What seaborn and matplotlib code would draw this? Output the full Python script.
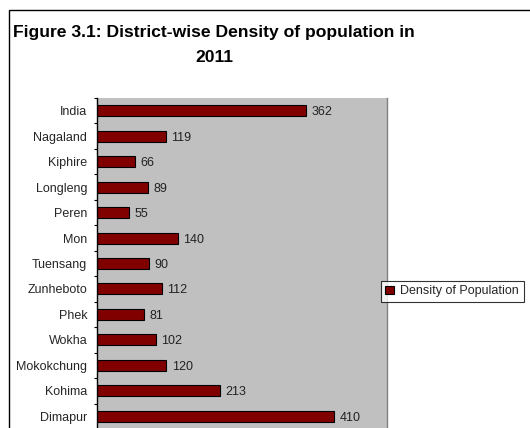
import matplotlib
matplotlib.use("Agg")
import matplotlib.pyplot as plt
from matplotlib.patches import Rectangle
import seaborn as sns
import pandas as pd

districts = ["India", "Nagaland", "Kiphire", "Longleng", "Peren", "Mon", "Tuensang",
             "Zunheboto", "Phek", "Wokha", "Mokokchung", "Kohima", "Dimapur"]
density = [362, 119, 66, 89, 55, 140, 90, 112, 81, 102, 120, 213, 410]
series_name = "Density of Population"

df = pd.DataFrame({"District": districts, "Density": density})

sns.set_theme(style="white")
plt.rcParams["font.family"] = ["Liberation Sans", "DejaVu Sans"]

W, H = 530, 428
fig = plt.figure(figsize=(W / 100, H / 100), dpi=100)
fig.patch.set_facecolor("white")

# outer chart frame
fig.add_artist(Rectangle((9 / W, -0.1), 1.2, 1 - 10 / H + 0.1, transform=fig.transFigure,
                         fill=False, edgecolor="black", linewidth=1.0))

left, right, top, bottom = 97, 387, 98, 429
ax = fig.add_axes([left / W, 1 - bottom / H, (right - left) / W, (bottom - top) / H])
ax.set_facecolor("#C0C0C0")

sns.barplot(data=df, x="Density", y="District", orient="h", color="#800000",
            edgecolor="black", linewidth=0.8, width=0.43, saturation=1, ax=ax,
            label=series_name)

ax.set_xlim(0, 502)
ax.set_ylim(len(districts) - 0.5, -0.5)
ax.set_xlabel("")
ax.set_ylabel("")

for i, v in enumerate(density):
    ax.annotate(str(v), (v, i), xytext=(4, 0), textcoords="offset points",
                va="center_baseline", ha="left", fontsize=9, color="#222222")

# category boundaries carry the tick marks; names sit at the centers
ax.set_yticks([i - 0.5 for i in range(len(districts) + 1)])
ax.set_yticklabels([])
ax.set_yticks(range(len(districts)), minor=True)
ax.set_yticklabels(districts, minor=True, fontsize=9)
ax.tick_params(axis="y", which="major", left=True, length=2.5, width=0.8, color="black")
ax.tick_params(axis="y", which="minor", left=False, length=0, pad=7)
ax.set_xticks([])

for s in ["top", "bottom"]:
    ax.spines[s].set_visible(False)
ax.spines["right"].set_color("#808080")
ax.spines["right"].set_linewidth(1.0)
ax.spines["left"].set_color("black")
ax.spines["left"].set_linewidth(1.0)

leg = ax.legend(loc="upper left", bbox_to_anchor=(381 / W, 1 - 281 / H),
                bbox_transform=fig.transFigure, fontsize=9, frameon=True,
                fancybox=False, handlelength=0.7, handleheight=0.7,
                handletextpad=0.5, borderpad=0.35, borderaxespad=0)
leg.get_frame().set_edgecolor("black")
leg.get_frame().set_linewidth(0.8)

fig.text(214 / W, 1 - 45 / H, "Figure 3.1: District-wise Density of population in\n2011",
         ha="center", va="center", multialignment="center", fontsize=12.6,
         fontweight="bold", linespacing=1.8, color="black")

fig.savefig("out.png", dpi=100)
